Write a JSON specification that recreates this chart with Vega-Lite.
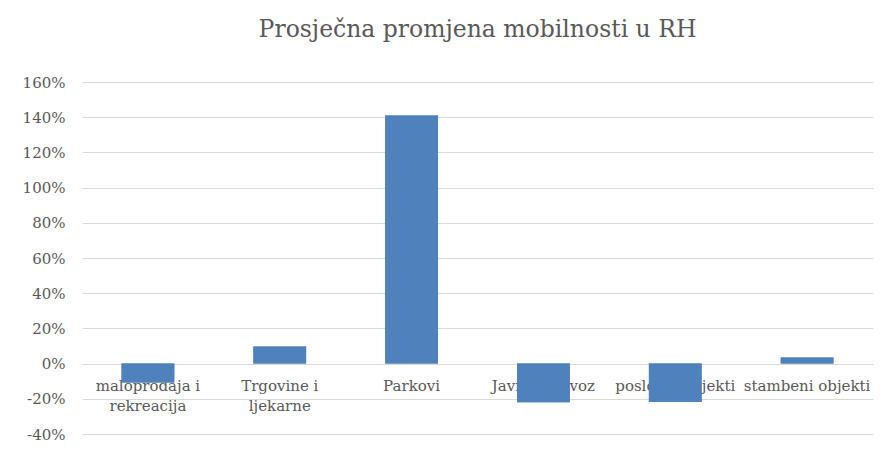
{
  "$schema": "https://vega.github.io/schema/vega-lite/v6.json",
  "width": 791,
  "height": 352,
  "autosize": "none",
  "padding": {"left": 82, "top": 82, "right": 12, "bottom": 16},
  "background": "white",
  "title": {
    "text": "Prosječna promjena mobilnosti u RH",
    "font": "DejaVu Serif",
    "fontSize": 23.5,
    "fontWeight": "normal",
    "color": "#595959",
    "anchor": "middle",
    "offset": 34
  },
  "data": {
    "values": [
      {"kategorija": "maloprodaja i rekreacija", "oznaka": "maloprodaja i\nrekreacija", "promjena": -0.108},
      {"kategorija": "Trgovine i ljekarne", "oznaka": "Trgovine i\nljekarne", "promjena": 0.097},
      {"kategorija": "Parkovi", "oznaka": "Parkovi", "promjena": 1.41},
      {"kategorija": "Javni prijevoz", "oznaka": "Javni prijevoz", "promjena": -0.22},
      {"kategorija": "poslovni objekti", "oznaka": "poslovni objekti", "promjena": -0.218},
      {"kategorija": "stambeni objekti", "oznaka": "stambeni objekti", "promjena": 0.034}
    ]
  },
  "encoding": {
    "x": {
      "field": "kategorija",
      "type": "nominal",
      "sort": null,
      "scale": {"paddingInner": 0.6, "paddingOuter": 0.3},
      "axis": null
    }
  },
  "layer": [
    {
      "mark": {"type": "bar", "color": "#4f81bd"},
      "encoding": {
        "y": {
          "field": "promjena",
          "type": "quantitative",
          "scale": {"domain": [-0.4, 1.6], "nice": false},
          "axis": {
            "title": null,
            "format": ".0%",
            "values": [-0.4, -0.2, 0, 0.2, 0.4, 0.6, 0.8, 1.0, 1.2, 1.4, 1.6],
            "labelOverlap": false,
            "labelFlush": false,
            "domain": false,
            "ticks": false,
            "labelPadding": 17,
            "labelFont": "DejaVu Serif",
            "labelFontSize": 15,
            "labelColor": "#595959",
            "grid": true,
            "gridColor": "#d9d9d9",
            "gridWidth": 1,
            "zindex": 0
          }
        }
      }
    },
    {
      "mark": {
        "type": "text",
        "font": "DejaVu Serif",
        "fontSize": 15,
        "color": "#595959",
        "baseline": "top",
        "align": "center",
        "lineBreak": "\n",
        "lineHeight": 20,
        "dy": 15
      },
      "encoding": {
        "y": {"datum": 0, "type": "quantitative", "axis": null},
        "text": {"field": "oznaka"}
      }
    },
    {
      "mark": {"type": "bar", "color": "#4f81bd"},
      "encoding": {
        "y": {"field": "promjena", "type": "quantitative", "axis": null}
      }
    }
  ],
  "resolve": {"axis": {"y": "independent"}},
  "config": {
    "view": {"stroke": null},
    "locale": {
      "number": {"decimal": ".", "thousands": ",", "grouping": [3], "currency": ["$", ""], "minus": "-"}
    }
  }
}
